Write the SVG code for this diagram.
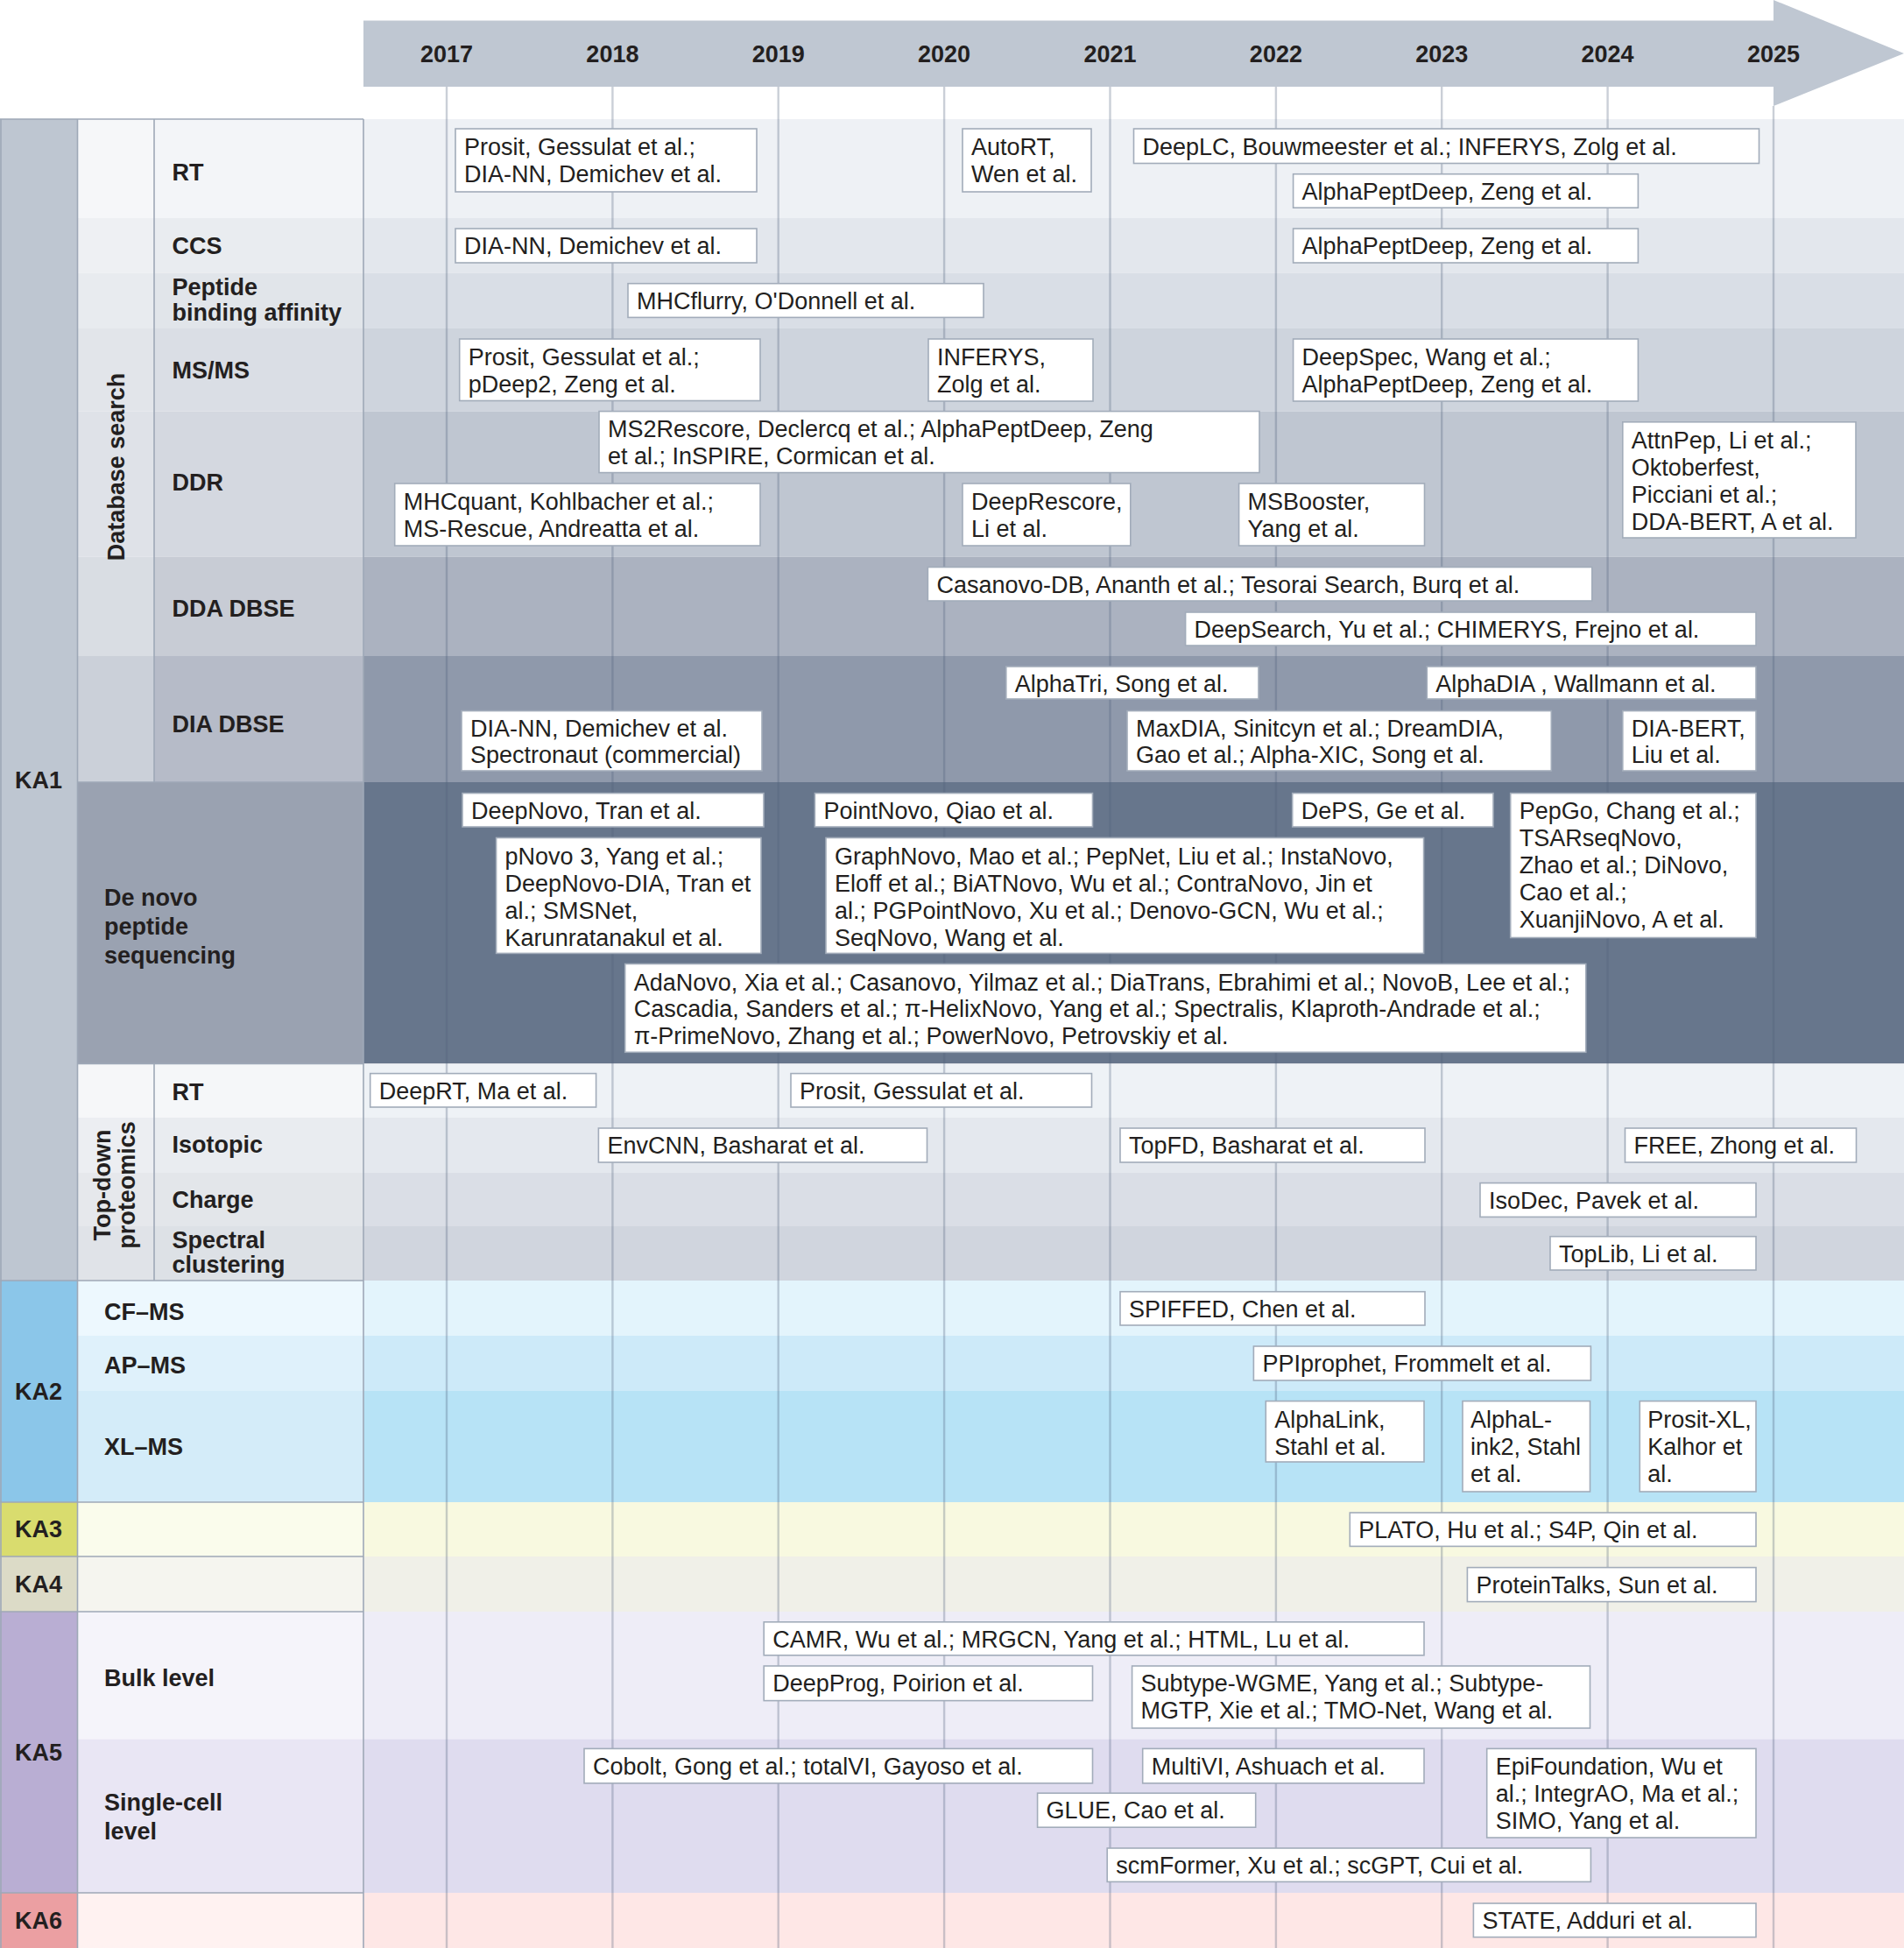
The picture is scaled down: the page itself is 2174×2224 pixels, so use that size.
<svg xmlns="http://www.w3.org/2000/svg" width="2174" height="2224" viewBox="0 0 2174 2224">
<style>
.bx{fill:#ffffff;stroke:#a2acba;stroke-width:1.6}
.t{font-family:"Liberation Sans",Arial,sans-serif;font-size:27px;fill:#231f20}
.lb{font-family:"Liberation Sans",Arial,sans-serif;font-size:27px;font-weight:bold;fill:#231f20}
.yr{font-family:"Liberation Sans",Arial,sans-serif;font-size:27px;font-weight:bold;fill:#231f20;text-anchor:middle}
.ka{font-family:"Liberation Sans",Arial,sans-serif;font-size:27px;font-weight:bold;fill:#231f20;text-anchor:middle}
.yl{stroke:#50607a;stroke-opacity:0.3;stroke-width:2.4}
.gl{stroke:#9ea8b7;stroke-width:1.6;fill:none}
</style>
<rect x="0" y="0" width="2174" height="2224" fill="#ffffff"/>
<g id="timeline-arrow">
<polygon points="415,23.5 2025,23.5 2025,0 2174,61 2025,121 2025,99 415,99" fill="#bfc7d2"/>
<text class="yr" x="510" y="71">2017</text>
<text class="yr" x="699.4" y="71">2018</text>
<text class="yr" x="888.7" y="71">2019</text>
<text class="yr" x="1078.1" y="71">2020</text>
<text class="yr" x="1267.5" y="71">2021</text>
<text class="yr" x="1456.9" y="71">2022</text>
<text class="yr" x="1646.2" y="71">2023</text>
<text class="yr" x="1835.6" y="71">2024</text>
<text class="yr" x="2025" y="71">2025</text>
</g>
<g id="row-bands">
<rect x="415" y="136" width="1759" height="113" fill="#eef1f5"/>
<rect x="415" y="249" width="1759" height="62.5" fill="#e3e7ed"/>
<rect x="415" y="311.5" width="1759" height="63.5" fill="#d9dee6"/>
<rect x="415" y="375" width="1759" height="94.6" fill="#ced4dd"/>
<rect x="415" y="469.6" width="1759" height="166.1" fill="#bfc6d1"/>
<rect x="415" y="635.7" width="1759" height="113.3" fill="#abb2c0"/>
<rect x="415" y="749" width="1759" height="144" fill="#8f99ab"/>
<rect x="415" y="893" width="1759" height="321.4" fill="#67768c"/>
<rect x="415" y="1214.4" width="1759" height="61.6" fill="#eef2f6"/>
<rect x="415" y="1276" width="1759" height="63" fill="#e4e8ee"/>
<rect x="415" y="1339" width="1759" height="61" fill="#dadee6"/>
<rect x="415" y="1400" width="1759" height="62" fill="#d0d5de"/>
<rect x="415" y="1462" width="1759" height="63" fill="#e3f4fc"/>
<rect x="415" y="1525" width="1759" height="63" fill="#cdeaf9"/>
<rect x="415" y="1588" width="1759" height="127" fill="#b7e3f6"/>
<rect x="415" y="1715" width="1759" height="62" fill="#f8f9e0"/>
<rect x="415" y="1777" width="1759" height="63" fill="#f0f0e8"/>
<rect x="415" y="1840" width="1759" height="145.5" fill="#eeedf7"/>
<rect x="415" y="1985.5" width="1759" height="175.5" fill="#dfdcef"/>
<rect x="415" y="2161" width="1759" height="63" fill="#fee7e6"/>
</g>
<g id="label-table">
<rect x="0" y="136" width="88.5" height="1326" fill="#bec6d1"/>
<rect x="0" y="1462" width="88.5" height="253" fill="#8bc6e9"/>
<rect x="0" y="1715" width="88.5" height="62" fill="#d9dc6e"/>
<rect x="0" y="1777" width="88.5" height="63" fill="#dcdbc7"/>
<rect x="0" y="1840" width="88.5" height="321" fill="#b9aed3"/>
<rect x="0" y="2161" width="88.5" height="63" fill="#eb9fa2"/>
<rect x="88.5" y="136" width="87.5" height="113" fill="#f6f7f9"/>
<rect x="88.5" y="249" width="87.5" height="62.5" fill="#eef0f3"/>
<rect x="88.5" y="311.5" width="87.5" height="63.5" fill="#e8ebef"/>
<rect x="88.5" y="375" width="87.5" height="94.6" fill="#e2e5ea"/>
<rect x="88.5" y="469.6" width="87.5" height="166.1" fill="#dfe2e8"/>
<rect x="88.5" y="635.7" width="87.5" height="113.3" fill="#d9dde3"/>
<rect x="88.5" y="749" width="87.5" height="144" fill="#cbd0d9"/>
<rect x="176" y="136" width="239" height="113" fill="#f3f5f8"/>
<rect x="176" y="249" width="239" height="62.5" fill="#e9ecf0"/>
<rect x="176" y="311.5" width="239" height="63.5" fill="#e1e5ea"/>
<rect x="176" y="375" width="239" height="94.6" fill="#dadee5"/>
<rect x="176" y="469.6" width="239" height="166.1" fill="#d4d8e0"/>
<rect x="176" y="635.7" width="239" height="113.3" fill="#c8ccd5"/>
<rect x="176" y="749" width="239" height="144" fill="#b6bbc8"/>
<rect x="88.5" y="893" width="326.5" height="321.4" fill="#9aa2b1"/>
<rect x="88.5" y="1214.4" width="87.5" height="61.6" fill="#f6f7f9"/>
<rect x="88.5" y="1276" width="87.5" height="63" fill="#eceef2"/>
<rect x="88.5" y="1339" width="87.5" height="61" fill="#e6e8ec"/>
<rect x="88.5" y="1400" width="87.5" height="62" fill="#e0e3e8"/>
<rect x="176" y="1214.4" width="239" height="61.6" fill="#f5f7f9"/>
<rect x="176" y="1276" width="239" height="63" fill="#e9ecf0"/>
<rect x="176" y="1339" width="239" height="61" fill="#e3e6ea"/>
<rect x="176" y="1400" width="239" height="62" fill="#dde1e6"/>
<rect x="88.5" y="1462" width="326.5" height="63" fill="#edf8fe"/>
<rect x="88.5" y="1525" width="326.5" height="63" fill="#dff1fb"/>
<rect x="88.5" y="1588" width="326.5" height="127" fill="#d4ecf9"/>
<rect x="88.5" y="1715" width="326.5" height="62" fill="#fafcec"/>
<rect x="88.5" y="1777" width="326.5" height="63" fill="#f5f5ef"/>
<rect x="88.5" y="1840" width="326.5" height="145.5" fill="#f5f4fa"/>
<rect x="88.5" y="1985.5" width="326.5" height="175.5" fill="#e9e6f4"/>
<rect x="88.5" y="2161" width="326.5" height="63" fill="#fff2f1"/>
<path class="gl" d="M1,136V2224 M88.5,136V2224 M176,136V893 M176,1214.4V1462 M415,136V2224 M0,136H415 M88.5,893H415 M88.5,1214.4H415 M0,1462H415 M0,1715H415 M0,1777H415 M0,1840H415 M0,2161H415"/>
<text class="ka" x="44" y="900">KA1</text>
<text class="ka" x="44" y="1598">KA2</text>
<text class="ka" x="44" y="1755">KA3</text>
<text class="ka" x="44" y="1818">KA4</text>
<text class="ka" x="44" y="2010">KA5</text>
<text class="ka" x="44" y="2202">KA6</text>
<text class="lb" text-anchor="middle" transform="translate(142,533) rotate(-90)">Database search</text>
<text class="lb" text-anchor="middle" transform="translate(125.5,1353) rotate(-90)">Top-down</text>
<text class="lb" text-anchor="middle" transform="translate(153.5,1353) rotate(-90)">proteomics</text>
<text class="lb" x="196.5" y="206">RT</text>
<text class="lb" x="196.5" y="290">CCS</text>
<text class="lb" x="196.5" y="337">Peptide</text>
<text class="lb" x="196.5" y="366">binding affinity</text>
<text class="lb" x="196.5" y="432">MS/MS</text>
<text class="lb" x="196.5" y="560">DDR</text>
<text class="lb" x="196.5" y="704">DDA DBSE</text>
<text class="lb" x="196.5" y="836">DIA DBSE</text>
<text class="lb" x="119" y="1034">De novo</text>
<text class="lb" x="119" y="1067">peptide</text>
<text class="lb" x="119" y="1100">sequencing</text>
<text class="lb" x="196.5" y="1256">RT</text>
<text class="lb" x="196.5" y="1316">Isotopic</text>
<text class="lb" x="196.5" y="1379">Charge</text>
<text class="lb" x="196.5" y="1425">Spectral</text>
<text class="lb" x="196.5" y="1453">clustering</text>
<text class="lb" x="119" y="1507">CF–MS</text>
<text class="lb" x="119" y="1568">AP–MS</text>
<text class="lb" x="119" y="1661">XL–MS</text>
<text class="lb" x="119" y="1925">Bulk level</text>
<text class="lb" x="119" y="2067">Single-cell</text>
<text class="lb" x="119" y="2099.5">level</text>
</g>
<g id="year-lines">
<path class="yl" d="M510,99V2224 M699.4,99V2224 M888.7,99V2224 M1078.1,99V2224 M1267.5,99V2224 M1456.9,99V2224 M1646.2,99V2224 M1835.6,99V2224 M2025,121V2224"/>
</g>
<g id="n1"><rect class="bx" x="520" y="147" width="344" height="72"/><text class="t"><tspan x="530" y="176.5">Prosit, Gessulat et al.;</tspan><tspan x="530" y="207.5">DIA-NN, Demichev et al.</tspan></text></g>
<g id="n2"><rect class="bx" x="1099" y="147" width="147" height="72"/><text class="t"><tspan x="1109" y="176.5">AutoRT,</tspan><tspan x="1109" y="207.5">Wen et al.</tspan></text></g>
<g id="n3"><rect class="bx" x="1294.5" y="147" width="714" height="39.5"/><text class="t" x="1304.5" y="176.5">DeepLC, Bouwmeester et al.; INFERYS, Zolg et al.</text></g>
<g id="n4"><rect class="bx" x="1476.6" y="198.7" width="393.8" height="38.5"/><text class="t" x="1486.6" y="228">AlphaPeptDeep, Zeng et al.</text></g>
<g id="n5"><rect class="bx" x="520" y="261" width="344" height="39"/><text class="t" x="530" y="290">DIA-NN, Demichev et al.</text></g>
<g id="n6"><rect class="bx" x="1476.6" y="261" width="393.8" height="39"/><text class="t" x="1486.6" y="290">AlphaPeptDeep, Zeng et al.</text></g>
<g id="n7"><rect class="bx" x="717" y="323.7" width="406" height="38.7"/><text class="t" x="727" y="353">MHCflurry, O'Donnell et al.</text></g>
<g id="n8"><rect class="bx" x="524.7" y="387" width="343.3" height="70.5"/><text class="t"><tspan x="534.7" y="416.5">Prosit, Gessulat et al.;</tspan><tspan x="534.7" y="447.5">pDeep2, Zeng et al.</tspan></text></g>
<g id="n9"><rect class="bx" x="1060" y="387" width="188" height="71"/><text class="t"><tspan x="1070" y="416.5">INFERYS,</tspan><tspan x="1070" y="447.5">Zolg et al.</tspan></text></g>
<g id="n10"><rect class="bx" x="1476.6" y="387" width="393.8" height="71"/><text class="t"><tspan x="1486.6" y="416.5">DeepSpec, Wang et al.;</tspan><tspan x="1486.6" y="447.5">AlphaPeptDeep, Zeng et al.</tspan></text></g>
<g id="n11"><rect class="bx" x="684" y="469.6" width="754" height="70"/><text class="t"><tspan x="694" y="499">MS2Rescore, Declercq et al.; AlphaPeptDeep, Zeng</tspan><tspan x="694" y="530">et al.; InSPIRE, Cormican et al.</tspan></text></g>
<g id="n12"><rect class="bx" x="450.7" y="552" width="417.3" height="71"/><text class="t"><tspan x="460.7" y="581.5">MHCquant, Kohlbacher et al.;</tspan><tspan x="460.7" y="612.5">MS-Rescue, Andreatta et al.</tspan></text></g>
<g id="n13"><rect class="bx" x="1099" y="552" width="191.8" height="71"/><text class="t"><tspan x="1109" y="581.5">DeepRescore,</tspan><tspan x="1109" y="612.5">Li et al.</tspan></text></g>
<g id="n14"><rect class="bx" x="1414.6" y="552" width="211.9" height="71"/><text class="t"><tspan x="1424.6" y="581.5">MSBooster,</tspan><tspan x="1424.6" y="612.5">Yang et al.</tspan></text></g>
<g id="n15"><rect class="bx" x="1852.8" y="481.8" width="266.2" height="132.2"/><text class="t"><tspan x="1862.8" y="511.5">AttnPep, Li et al.;</tspan><tspan x="1862.8" y="542.5">Oktoberfest,</tspan><tspan x="1862.8" y="573.5">Picciani et al.;</tspan><tspan x="1862.8" y="604.5">DDA-BERT, A et al.</tspan></text></g>
<g id="n16"><rect class="bx" x="1059.4" y="647.5" width="758.4" height="38.5"/><text class="t" x="1069.4" y="676.5">Casanovo-DB, Ananth et al.; Tesorai Search, Burq et al.</text></g>
<g id="n17"><rect class="bx" x="1353.6" y="699" width="651.4" height="38"/><text class="t" x="1363.6" y="728">DeepSearch, Yu et al.; CHIMERYS, Frejno et al.</text></g>
<g id="n18"><rect class="bx" x="1148.8" y="761" width="288.2" height="37"/><text class="t" x="1158.8" y="789.5">AlphaTri, Song et al.</text></g>
<g id="n19"><rect class="bx" x="1629.3" y="761" width="375.7" height="37"/><text class="t" x="1639.3" y="789.5">AlphaDIA , Wallmann et al.</text></g>
<g id="n20"><rect class="bx" x="527" y="811.6" width="343" height="68.4"/><text class="t"><tspan x="537" y="840.5">DIA-NN, Demichev et al.</tspan><tspan x="537" y="871">Spectronaut (commercial)</tspan></text></g>
<g id="n21"><rect class="bx" x="1287" y="811.6" width="484.3" height="68.4"/><text class="t"><tspan x="1297" y="840.5">MaxDIA, Sinitcyn et al.; DreamDIA,</tspan><tspan x="1297" y="871">Gao et al.; Alpha-XIC, Song et al.</tspan></text></g>
<g id="n22"><rect class="bx" x="1852.8" y="811.6" width="152.2" height="68.4"/><text class="t"><tspan x="1862.8" y="840.5">DIA-BERT,</tspan><tspan x="1862.8" y="871">Liu et al.</tspan></text></g>
<g id="n23"><rect class="bx" x="528" y="905.6" width="344" height="38.4"/><text class="t" x="538" y="934.5">DeepNovo, Tran et al.</text></g>
<g id="n24"><rect class="bx" x="930.4" y="905.6" width="317.1" height="38.4"/><text class="t" x="940.4" y="934.5">PointNovo, Qiao et al.</text></g>
<g id="n25"><rect class="bx" x="1475.7" y="905.6" width="229.3" height="38.4"/><text class="t" x="1485.7" y="934.5">DePS, Ge et al.</text></g>
<g id="n26"><rect class="bx" x="1724.7" y="905.6" width="280.3" height="164.9"/><text class="t"><tspan x="1734.7" y="934.7">PepGo, Chang et al.;</tspan><tspan x="1734.7" y="965.8">TSARseqNovo,</tspan><tspan x="1734.7" y="996.9">Zhao et al.; DiNovo,</tspan><tspan x="1734.7" y="1028">Cao et al.;</tspan><tspan x="1734.7" y="1059.1">XuanjiNovo, A et al.</tspan></text></g>
<g id="n27"><rect class="bx" x="566.6" y="956.5" width="302.4" height="131.9"/><text class="t"><tspan x="576.6" y="986.5">pNovo 3, Yang et al.;</tspan><tspan x="576.6" y="1017.5">DeepNovo-DIA, Tran et</tspan><tspan x="576.6" y="1048.5">al.; SMSNet,</tspan><tspan x="576.6" y="1079.5">Karunratanakul et al.</tspan></text></g>
<g id="n28"><rect class="bx" x="943" y="956.5" width="682.6" height="131.9"/><text class="t"><tspan x="953" y="986.5">GraphNovo, Mao et al.; PepNet, Liu et al.; InstaNovo,</tspan><tspan x="953" y="1017.5">Eloff et al.; BiATNovo, Wu et al.; ContraNovo, Jin et</tspan><tspan x="953" y="1048.5">al.; PGPointNovo, Xu et al.; Denovo-GCN, Wu et al.;</tspan><tspan x="953" y="1079.5">SeqNovo, Wang et al.</tspan></text></g>
<g id="n29"><rect class="bx" x="713.7" y="1100.5" width="1097.1" height="100.8"/><text class="t"><tspan x="723.7" y="1130.5">AdaNovo, Xia et al.; Casanovo, Yilmaz et al.; DiaTrans, Ebrahimi et al.; NovoB, Lee et al.;</tspan><tspan x="723.7" y="1161">Cascadia, Sanders et al.; π-HelixNovo, Yang et al.; Spectralis, Klaproth-Andrade et al.;</tspan><tspan x="723.7" y="1191.5">π-PrimeNovo, Zhang et al.; PowerNovo, Petrovskiy et al.</tspan></text></g>
<g id="n30"><rect class="bx" x="422.7" y="1225.6" width="257.9" height="38.4"/><text class="t" x="432.7" y="1254.5">DeepRT, Ma et al.</text></g>
<g id="n31"><rect class="bx" x="903" y="1225.6" width="343.5" height="38.4"/><text class="t" x="913" y="1254.5">Prosit, Gessulat et al.</text></g>
<g id="n32"><rect class="bx" x="683.4" y="1288" width="375.1" height="39"/><text class="t" x="693.4" y="1317">EnvCNN, Basharat et al.</text></g>
<g id="n33"><rect class="bx" x="1279" y="1288" width="348" height="39"/><text class="t" x="1289" y="1317">TopFD, Basharat et al.</text></g>
<g id="n34"><rect class="bx" x="1855.5" y="1288" width="264" height="39"/><text class="t" x="1865.5" y="1317">FREE, Zhong et al.</text></g>
<g id="n35"><rect class="bx" x="1690" y="1350.6" width="315" height="38.8"/><text class="t" x="1700" y="1379.5">IsoDec, Pavek et al.</text></g>
<g id="n36"><rect class="bx" x="1770" y="1411.7" width="235" height="38.3"/><text class="t" x="1780" y="1440.5">TopLib, Li et al.</text></g>
<g id="n37"><rect class="bx" x="1279" y="1474.7" width="348" height="38.3"/><text class="t" x="1289" y="1503.5">SPIFFED, Chen et al.</text></g>
<g id="n38"><rect class="bx" x="1431.4" y="1537" width="385" height="39"/><text class="t" x="1441.4" y="1566">PPIprophet, Frommelt et al.</text></g>
<g id="n39"><rect class="bx" x="1445.3" y="1599.6" width="180.7" height="69.4"/><text class="t"><tspan x="1455.3" y="1629.5">AlphaLink,</tspan><tspan x="1455.3" y="1660.5">Stahl et al.</tspan></text></g>
<g id="n40"><rect class="bx" x="1670" y="1599.6" width="145.5" height="103.4"/><text class="t"><tspan x="1679" y="1629.5">AlphaL-</tspan><tspan x="1679" y="1660.5">ink2, Stahl</tspan><tspan x="1679" y="1691.5">et al.</tspan></text></g>
<g id="n41"><rect class="bx" x="1872.3" y="1599.6" width="132.7" height="103.4"/><text class="t"><tspan x="1881.3" y="1629.5">Prosit-XL,</tspan><tspan x="1881.3" y="1660.5">Kalhor et</tspan><tspan x="1881.3" y="1691.5">al.</tspan></text></g>
<g id="n42"><rect class="bx" x="1541.3" y="1727" width="463.7" height="38.4"/><text class="t" x="1551.3" y="1756">PLATO, Hu et al.; S4P, Qin et al.</text></g>
<g id="n43"><rect class="bx" x="1675.4" y="1789.6" width="329.6" height="39"/><text class="t" x="1685.4" y="1818.5">ProteinTalks, Sun et al.</text></g>
<g id="n44"><rect class="bx" x="872.2" y="1851.8" width="753.8" height="38"/><text class="t" x="882.2" y="1880.5">CAMR, Wu et al.; MRGCN, Yang et al.; HTML, Lu et al.</text></g>
<g id="n45"><rect class="bx" x="872.2" y="1902" width="375.3" height="39.6"/><text class="t" x="882.2" y="1931">DeepProg, Poirion et al.</text></g>
<g id="n46"><rect class="bx" x="1292.6" y="1902" width="522.9" height="71"/><text class="t"><tspan x="1302.6" y="1931">Subtype-WGME, Yang et al.; Subtype-</tspan><tspan x="1302.6" y="1962">MGTP, Xie et al.; TMO-Net, Wang et al.</tspan></text></g>
<g id="n47"><rect class="bx" x="667" y="1996.4" width="580.5" height="39.5"/><text class="t" x="677" y="2025.5">Cobolt, Gong et al.; totalVI, Gayoso et al.</text></g>
<g id="n48"><rect class="bx" x="1304.7" y="1996.4" width="321.3" height="39.5"/><text class="t" x="1314.7" y="2025.5">MultiVI, Ashuach et al.</text></g>
<g id="n49"><rect class="bx" x="1697.7" y="1996.4" width="307.3" height="101.6"/><text class="t"><tspan x="1707.7" y="2025.5">EpiFoundation, Wu et</tspan><tspan x="1707.7" y="2056.5">al.; IntegrAO, Ma et al.;</tspan><tspan x="1707.7" y="2087.5">SIMO, Yang et al.</tspan></text></g>
<g id="n50"><rect class="bx" x="1184.6" y="2047.2" width="249.1" height="39"/><text class="t" x="1194.6" y="2076.2">GLUE, Cao et al.</text></g>
<g id="n51"><rect class="bx" x="1264.2" y="2110" width="552.2" height="38.4"/><text class="t" x="1274.2" y="2139">scmFormer, Xu et al.; scGPT, Cui et al.</text></g>
<g id="n52"><rect class="bx" x="1682.4" y="2173" width="322.6" height="38.6"/><text class="t" x="1692.4" y="2202">STATE, Adduri et al.</text></g>
</svg>
